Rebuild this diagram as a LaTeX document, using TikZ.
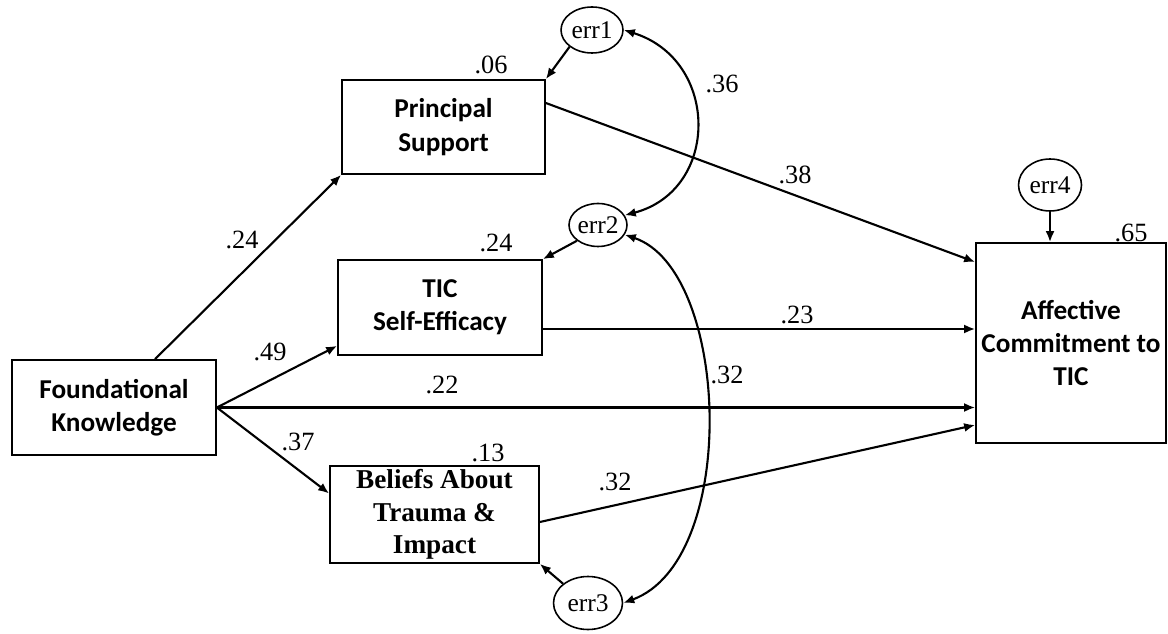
\documentclass[tikz,border=0pt]{standalone}
\usepackage{fontspec}
\setmainfont{Liberation Serif}
\newfontfamily\boxfont{Carlito}
\usetikzlibrary{arrows.meta,shapes.geometric,calc}

\tikzset{
  var/.style={draw, line width=1pt, align=center, inner sep=2pt,
    font=\boxfont\bfseries\fontsize{15.5}{19}\selectfont},
  err/.style={draw, ellipse, line width=0.9pt, inner sep=0pt,
    font=\fontsize{14.5}{16}\selectfont},
  effect/.style={line width=1.2pt, -{Latex[length=2.2mm,width=1.8mm]}},
  cov/.style={line width=1.2pt, {Latex[length=2.2mm,width=1.8mm]}-{Latex[length=2.2mm,width=1.8mm]}},
  coef/.style={inner sep=0pt, font=\fontsize{15}{16}\selectfont}
}

\begin{document}
\begin{tikzpicture}[x=0.02cm, y=-0.02cm]
\useasboundingbox (0,0) rectangle (1168,634);

% Observed variables
\node[var, minimum width=4.08cm, minimum height=1.9cm] (fk) at (114,407.5) {Foundational\\Knowledge};
\node[var, minimum width=4.06cm, minimum height=1.88cm] (ps) at (443.5,127) {Principal\\Support};
\node[var, minimum width=4.08cm, minimum height=1.9cm] (tic) at (440,307.5) {TIC\\Self-Efficacy};
\node[var, minimum width=4.18cm, minimum height=1.9cm,
  font=\bfseries\fontsize{15.5}{18.5}\selectfont] (bel) at (434.5,514.5) {Beliefs About\\Trauma \&\\Impact};
\node[var, minimum width=3.8cm, minimum height=4cm] (ac) at (1071,343) {Affective\\Commitment to\\TIC};

% Error terms
\node[err, minimum width=1.24cm, minimum height=0.92cm] (e1) at (592,30) {err1};
\node[err, minimum width=1.1cm, minimum height=0.86cm] (e2) at (598,225) {err2};
\node[err, minimum width=1.38cm, minimum height=1.06cm] (e3) at (588,603) {err3};
\node[err, minimum width=1.26cm, minimum height=1.04cm] (e4) at (1050,185) {err4};

% Paths
\coordinate (t1) at ($(tic.east)+(0,21.5)$);
\draw[effect] ($(fk.north)+(41,0)$) -- (ps.south west);
\draw[effect] (fk.east) -- ($(tic.south west)+(0,-10)$);
\draw[effect] (fk.east) -- (fk.east -| ac.west);
\draw[effect] (fk.east) -- ($(bel.west)+(0,-21)$);
\draw[effect] ($(ps.east)+(0,-24)$) -- ($(ac.west)+(0,-81)$);
\draw[effect] (t1) -- (t1 -| ac.west);
\draw[effect] ($(bel.east)+(0,7.5)$) -- ($(ac.west)+(0,82)$);

% Errors to variables
\draw[effect] (e1.south west) -- (ps.north east);
\draw[effect] (e2.south west) -- (tic.north east);
\draw[effect] (e3.north west) -- (bel.south east);
\draw[effect] (e4.south) -- (e4.south |- ac.north);

% Covariances
\draw[cov] (e1.east) .. controls (720,60) and (720,190) .. (e2.20);
\draw[cov] (e2.-20) .. controls (730,270) and (740,560) .. (e3.east);

% Coefficients
\foreach \i/\x/\y/\t in {1/491/65/.06, 2/722/84/.36, 3/795/175/.38, 4/496/243/.24,
  5/242/240/.24, 6/270/352/.49, 7/797/315/.23, 8/442/385/.22, 9/727/375/.32,
  10/298/442/.37, 11/488/453/.13, 12/615/482/.32, 13/1131/233/.65}
{
\node[coef] (c\i) at (\x,\y) {\t};
}

\end{tikzpicture}
\end{document}
